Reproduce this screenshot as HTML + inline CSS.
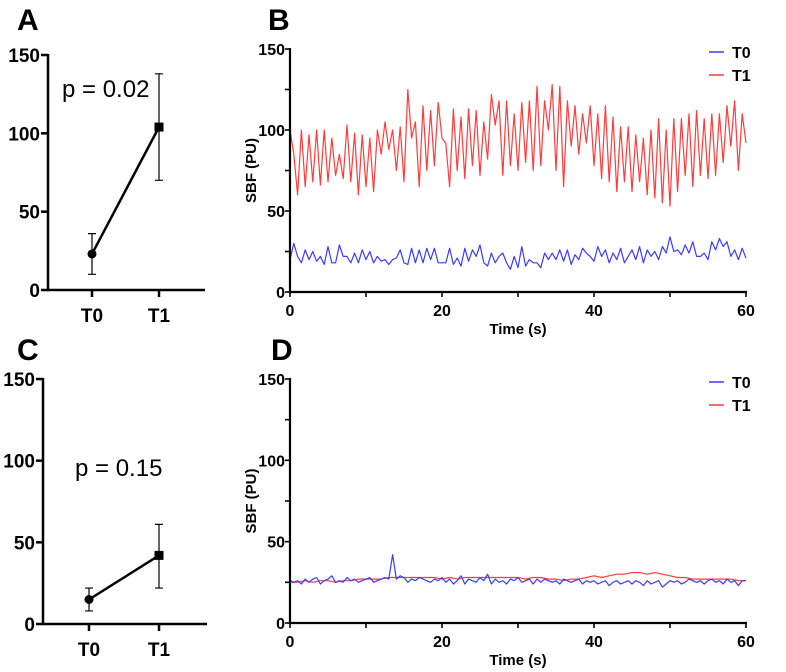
<!DOCTYPE html>
<html><head><meta charset="utf-8"><style>
html,body{margin:0;padding:0;background:#fff;}
svg{display:block;font-family:"Liberation Sans",Arial,sans-serif;}
.tk{font-weight:bold;fill:#000;}
</style></head><body>
<svg id="fig" width="786" height="672" viewBox="0 0 786 672"></svg>
<script>
const dotCats = ["T0","T1"];
const aMeans = [23,104];
const aLow = [10,70];
const aHigh = [36,138];
const cMeans = [15,42];
const cLow = [8,22];
const cHigh = [22,61];
const yTicks = [0,50,100,150];
const xTicks = [0,20,40,60];
const bRed = [100,85,60,100,65,97,68,100,66,100,
68,95,72,85,70,103,68,98,60,97,
65,95,62,100,85,105,88,100,75,102,
68,125,95,105,65,115,75,112,78,117,
95,92,65,113,75,108,70,113,78,112,
72,105,82,122,103,118,72,118,78,110,
75,117,80,118,75,127,78,118,100,128,
75,127,65,118,90,115,85,110,92,115,
78,110,70,115,68,108,62,102,68,102,
62,97,68,95,60,100,58,107,55,100,
53,107,62,107,72,110,65,112,72,107,
70,110,72,110,80,115,90,118,75,110,
92];
const bBlue = [20,30,22,18,26,20,25,19,22,17,
28,18,18,29,22,22,18,24,18,26,
20,25,18,22,19,20,17,20,21,26,
18,17,27,18,26,18,27,20,27,18,
18,18,27,17,21,16,27,19,26,22,
29,18,16,24,18,22,24,18,14,22,
15,28,16,20,18,18,15,24,20,24,
20,26,19,26,17,23,20,27,24,22,
19,28,22,26,18,24,20,27,18,22,
26,20,28,18,26,22,25,20,28,24,
34,25,26,23,29,24,31,22,22,24,
20,31,26,33,28,31,22,26,20,27,
21];
const dRed = [25,25,26,25,26,26,25,26,26,27,27,27,27,28,28,28,28,28,28,28,27,28,27,28,28,28,28,28,28,28,28,27,28,28,27,27,26,27,27,28,29,28,29,30,30,31,31,30,31,30,29,28,28,27,27,27,27,27,27,26,26];
const dBlue = [26,25,26,24,27,25,27,28,24,26,
27,29,25,26,25,28,26,27,25,26,
27,28,25,26,27,28,27,42,27,29,
28,25,27,26,28,27,26,25,27,26,
28,25,27,24,26,29,24,27,26,25,
28,26,30,24,27,25,26,24,27,26,
28,25,26,27,24,27,25,27,26,25,
26,24,27,26,25,26,27,24,26,25,
26,24,25,26,23,25,26,24,25,26,
24,26,25,23,26,24,25,26,22,24,
26,25,26,24,25,27,26,25,26,24,
26,27,25,26,24,27,25,26,23,26,
26];

const NS="http://www.w3.org/2000/svg";
const svg=document.getElementById('fig');
function mk(tag,attrs,parent,text){const e=document.createElementNS(NS,tag);for(const k in attrs)e.setAttribute(k,attrs[k]);if(text!==undefined)e.textContent=text;(parent||svg).appendChild(e);return e;}

function label(x,y,t,name,size){
  const e=mk('text',{x:x,y:y,style:`font-size:${size}px;font-weight:bold`,fill:'#000'},svg,t);
  
  
  return e;
}

function dotPanel(pre,ax,y0,y150,xEnd,xs,means,lo,hi,ptext,px,py){
  const g=mk('g',{});
  
  
  const ys=v=>y0+(y150-y0)*v/150;
  mk('line',{x1:ax,y1:y150-1,x2:ax,y2:y0,stroke:'#000','stroke-width':2.5},g);
  mk('line',{x1:ax-1,y1:y0,x2:xEnd,y2:y0,stroke:'#000','stroke-width':2.5},g);
  yTicks.forEach(v=>{
    mk('line',{x1:ax-7,y1:ys(v),x2:ax,y2:ys(v),stroke:'#000','stroke-width':2.5},g);
    const t=mk('text',{x:ax-8,y:ys(v)+7,'text-anchor':'end',class:'tk',style:'font-size:19px'},g,String(v));
    
    
  });
  dotCats.forEach((c,i)=>{
    mk('line',{x1:xs[i],y1:y0,x2:xs[i],y2:y0+7,stroke:'#000','stroke-width':2.5},g);
    const t=mk('text',{x:xs[i],y:y0+32,'text-anchor':'middle',class:'tk',style:'font-size:19px'},g,c);
    
    
    const e=mk('path',{d:`M${xs[i]},${ys(lo[i])}V${ys(hi[i])}M${xs[i]-4},${ys(lo[i])}h8M${xs[i]-4},${ys(hi[i])}h8`,stroke:'#000','stroke-width':1.2,fill:'none'},g);
    
    
  });
  const ln=mk('line',{x1:xs[0],y1:ys(means[0]),x2:xs[1],y2:ys(means[1]),stroke:'#000','stroke-width':2.5},g);
  
  
  const c=mk('circle',{cx:xs[0],cy:ys(means[0]),r:4.5,fill:'#000'},g);
  
  
  const s=mk('rect',{x:xs[1]-4.5,y:ys(means[1])-4.5,width:9,height:9,fill:'#000'},g);
  
  
  const p=mk('text',{x:px,y:py,style:'font-size:24px',fill:'#000'},g,ptext);
  
  
}

function tsPanel(pre,y0,y150,red,redStep,blue,blueStep,legY){
  const ax=290,x60=746;
  const g=mk('g',{});
  
  
  const xs=t=>ax+(x60-ax)*t/60;
  const ys=v=>y0+(y150-y0)*v/150;
  function series(arr,step,col,name){
    let d='';arr.forEach((v,i)=>{d+=(i?'L':'M')+xs(i*step).toFixed(1)+','+ys(v).toFixed(1);});
    const p=mk('path',{d:d,stroke:col,'stroke-width':1.2,fill:'none','stroke-linejoin':'round'},g);
    
    
  }
  series(red,redStep,'#ff3b3b','series-t1');
  series(blue,blueStep,'#3b3bff','series-t0');
  mk('line',{x1:ax,y1:y150-1,x2:ax,y2:y0+1,stroke:'#000','stroke-width':2.2},g);
  mk('line',{x1:ax-1,y1:y0,x2:x60+1,y2:y0,stroke:'#000','stroke-width':2.2},g);
  for(let v=0;v<=150;v+=25){
    mk('line',{x1:ax-5,y1:ys(v),x2:ax,y2:ys(v),stroke:'#000','stroke-width':1.6},g);
  }
  yTicks.forEach(v=>{
    const t=mk('text',{x:ax-5,y:ys(v)+6,'text-anchor':'end',class:'tk',style:'font-size:16px'},g,String(v));
    
    
  });
  for(let t=0;t<=60;t+=10){
    mk('line',{x1:xs(t),y1:y0,x2:xs(t),y2:y0+5,stroke:'#000','stroke-width':1.6},g);
  }
  xTicks.forEach(v=>{
    const t=mk('text',{x:xs(v),y:y0+24,'text-anchor':'middle',class:'tk',style:'font-size:16px'},g,String(v));
    
    
  });
  const xt=mk('text',{x:xs(30),y:y0+42,'text-anchor':'middle',class:'tk',style:'font-size:15px'},g,'Time (s)');
  
  
  const cy=(y0+y150)/2;
  const yt=mk('text',{x:0,y:0,'text-anchor':'middle',class:'tk',style:'font-size:15px',transform:`translate(256,${cy}) rotate(-90)`},g,'SBF (PU)');
  
  
  [['T0','#3b3bff',legY],['T1','#ff3b3b',legY+23]].forEach(l=>{
    const lg=mk('g',{},g);
    
    
    mk('line',{x1:709,y1:l[2],x2:724,y2:l[2],stroke:l[1],'stroke-width':1.5},lg);
    mk('text',{x:732,y:l[2]+6,class:'tk',style:'font-size:16px'},lg,l[0]);
  });
}

label(17,30,'A','panel-label-a',30);
label(268,30,'B','panel-label-b',30);
label(17,360,'C','panel-label-c',30);
label(271,360,'D','panel-label-d',30);

dotPanel('a',48,290,55,205,[92,159],aMeans,aLow,aHigh,'p = 0.02',62,97);
dotPanel('c',43,624,379,207,[89,159],cMeans,cLow,cHigh,'p = 0.15',75,476);
tsPanel('b',292,49,bRed,0.5,bBlue,0.5,52);
tsPanel('d',623,379,dRed,1,dBlue,0.5,382);
</script>
</body></html>
